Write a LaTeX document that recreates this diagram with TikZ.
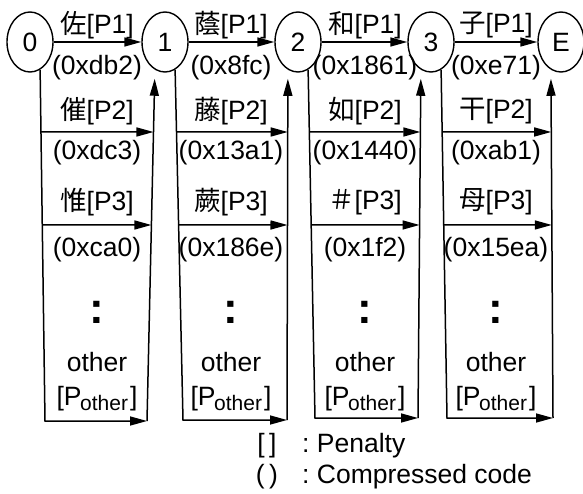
\documentclass[tikz,border=0pt]{standalone}
\usepackage{fontspec}
\setmainfont{Liberation Sans}
\newfontfamily\cjk{Noto Sans CJK JP}
\usetikzlibrary{shapes.geometric,arrows.meta,calc}

\begin{document}
\begin{tikzpicture}[x=1pt,y=-1pt,
  state/.style={draw, ellipse, line width=1.4pt, minimum width=46pt,
    minimum height=60pt, inner sep=0pt, font=\fontsize{26.5}{30}\selectfont},
  lbl/.style={inner sep=0pt, font=\fontsize{26.5}{30}\selectfont},
  dotsym/.style={inner sep=0pt, anchor=base, font=\fontsize{44}{44}\selectfont\bfseries},
  wire/.style={line width=1.5pt},
  arr/.style={wire, -{Triangle[length=17pt,width=9pt]}},
  rise/.style={arr, shorten >=9pt},
]
\useasboundingbox (0,0) rectangle (583,494);

% states
\node[state] (n0) at (30,42)  {0};
\node[state] (n1) at (165,42) {1};
\node[state] (n2) at (298,42) {2};
\node[state] (n3) at (431,42) {3};
\node[state] (nE) at (561,42) {E};

% bottom corners of each transition frame
\coordinate (b0) at (45,421);  \coordinate (c0) at (147,421);
\coordinate (b1) at (183,420); \coordinate (c1) at (287,420);
\coordinate (b2) at (315,418); \coordinate (c2) at (418,418);
\coordinate (b3) at (447,418); \coordinate (c3) at (553,418);

% first-choice transitions
\draw[arr] (n0) -- (n1);
\draw[arr] (n1) -- (n2);
\draw[arr] (n2) -- (n3);
\draw[arr] (n3) -- (nE);

% frames: left rail down, "other" branch across, right rail up
\foreach \g/\s/\t in {0/n0/n1, 1/n1/n2, 2/n2/n3, 3/n3/nE}{
  \draw[arr] (\s.290) -- (b\g) -- (c\g);
  \draw[rise] (c\g) -- (\t.250);
  \foreach \y in {132,225}{
    \draw[arr] (intersection of 0,\y--1,(\y) and \s.290--b\g)
            -- (intersection of 0,\y--1,(\y) and c\g--\t.250);
  }
}

% labels of each frame
\foreach \g/\x/\ka/\ca/\kb/\cb/\kc/\cc in {
  0/97/佐/db2/催/dc3/惟/ca0,
  1/231/蔭/8fc/藤/13a1/蕨/186e,
  2/365/和/1861/如/1440/＃/1f2,
  3/496/子/e71/干/ab1/母/15ea}{
  \node[lbl] (ka\g) at (\x,25)  {{\cjk\ka}[P1]};
  \node[lbl] (ca\g) at (\x,68)  {(0x\ca)};
  \node[lbl] (kb\g) at (\x,111) {{\cjk\kb}[P2]};
  \node[lbl] (cb\g) at (\x,153) {(0x\cb)};
  \node[lbl] (kc\g) at (\x,202) {{\cjk\kc}[P3]};
  \node[lbl] (cc\g) at (\x,250) {(0x\cc)};
  \node[dotsym] (vd\g) at (\x,323) {:};
  \node[lbl] (ot\g) at (\x,362) {other};
  \node[lbl] (po\g) at (\x,399) {[P\kern-1.5pt\raisebox{-5pt}{\fontsize{21}{21}\selectfont other}\kern2pt]};
}

% legend
\node[lbl] (lgA) at (267,446) {[\,]};
\node[lbl] (lgB) at (267,477) {(\,)};
\node[lbl, anchor=west] (lgAt) at (302,446) {:\ Penalty};
\node[lbl, anchor=west] (lgBt) at (302,477) {:\ Compressed code};
\end{tikzpicture}
\end{document}
